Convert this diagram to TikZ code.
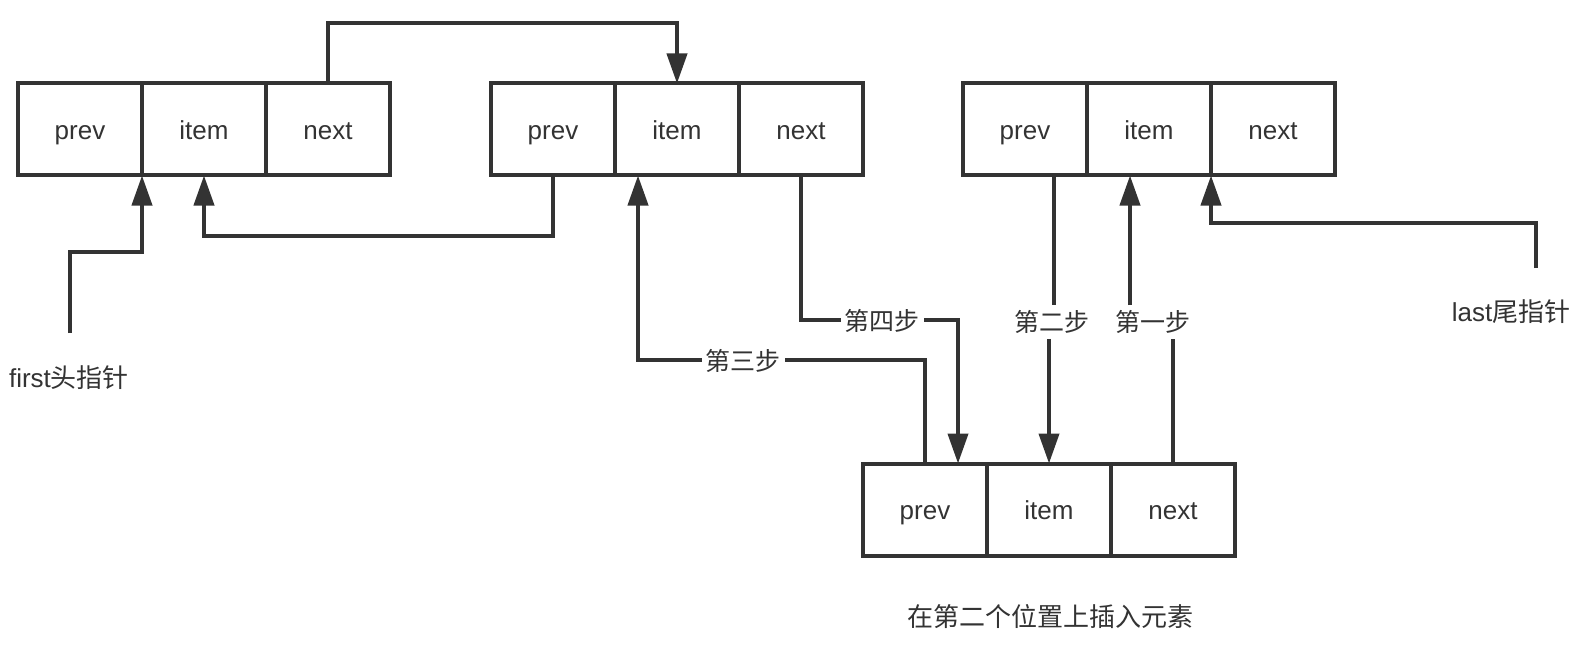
\documentclass[tikz,border=0pt]{standalone}
\usepackage{fontspec}
\setmainfont{Liberation Sans}
\newfontfamily\cjk{Noto Sans CJK SC}
\usetikzlibrary{arrows.meta}
\definecolor{ink}{HTML}{333333}
\begin{document}
\begin{tikzpicture}[x=1pt,y=-1pt,
  cell/.style={draw=ink, line width=4pt, minimum width=124pt, minimum height=92pt, inner sep=0pt, outer sep=0pt, text=ink, text height=25pt, text depth=5pt, font=\fontsize{26}{31}\selectfont},
  wire/.style={draw=ink, line width=4pt},
  arr/.style={wire, -{Triangle[width=20pt,length=30pt]}},
  lab/.style={fill=white, text=ink, inner xsep=4pt, inner ysep=5pt, font=\fontsize{25}{30}\selectfont\cjk},
  txt/.style={text=ink, inner sep=0pt, font=\fontsize{26}{31}\selectfont}]
\useasboundingbox[fill=white] (0,0) rectangle (1588,658);

% node 1
\node[cell] (a1) at (80,129.5) {prev};
\node[cell] (a2) at (204,129.5) {item};
\node[cell] (a3) at (328,129.5) {next};
% node 2
\node[cell] (b1) at (553,129.5) {prev};
\node[cell] (b2) at (677,129.5) {item};
\node[cell] (b3) at (801,129.5) {next};
% node 3
\node[cell] (c1) at (1025,129.5) {prev};
\node[cell] (c2) at (1149,129.5) {item};
\node[cell] (c3) at (1273,129.5) {next};
% new node
\node[cell] (d1) at (925,509.5) {prev};
\node[cell] (d2) at (1049,509.5) {item};
\node[cell] (d3) at (1173,509.5) {next};

% existing links
\draw[arr] (a3.north) -- ++(0,-60.5) -| (b2.north);
\draw[arr] (b1.south) -- ++(0,60.5) -| (a2.south);

% head and tail pointers
\coordinate (f0) at (70,333);
\draw[arr] (f0) -- ++(0,-81) -| (a1.south east);
\coordinate (l0) at (1536,268);
\draw[arr] (l0) -- ++(0,-45) -| (c2.south east);

% step 3 and step 4
\coordinate (b2s) at ([xshift=-39pt]b2.south);
\draw[arr] (d1.north) -- ++(0,-103.5) -| (b2s);
\coordinate (d1n) at ([xshift=33pt]d1.north);
\draw[arr] (b3.south) -- ++(0,144.5) -| (d1n);

% labels
\node[lab] (L3) at (743,361) {第三步};
\node[lab] (L4) at (882,321) {第四步};
\node[lab] (L2) at (1052,322) {第二步};
\node[lab] (L1) at (1153,322) {第一步};

% step 2
\coordinate (c1s) at ([xshift=29pt]c1.south);
\draw[wire] (c1s) -- (c1s |- L2.north);
\draw[arr] (d2.north |- L2.south) -- (d2.north);
% step 1
\draw[wire] (d3.north) -- (d3.north |- L1.south);
\coordinate (c2s) at ([xshift=-19pt]c2.south);
\draw[arr] (c2s |- L1.north) -- (c2s);

% texts
\node[txt] (first) at (69,378) {first{\cjk 头指针}};
\node[txt] (last) at (1511,312) {last{\cjk 尾指针}};
\node[txt] (cap) at (1050,617) {\cjk 在第二个位置上插入元素};
\end{tikzpicture}
\end{document}
